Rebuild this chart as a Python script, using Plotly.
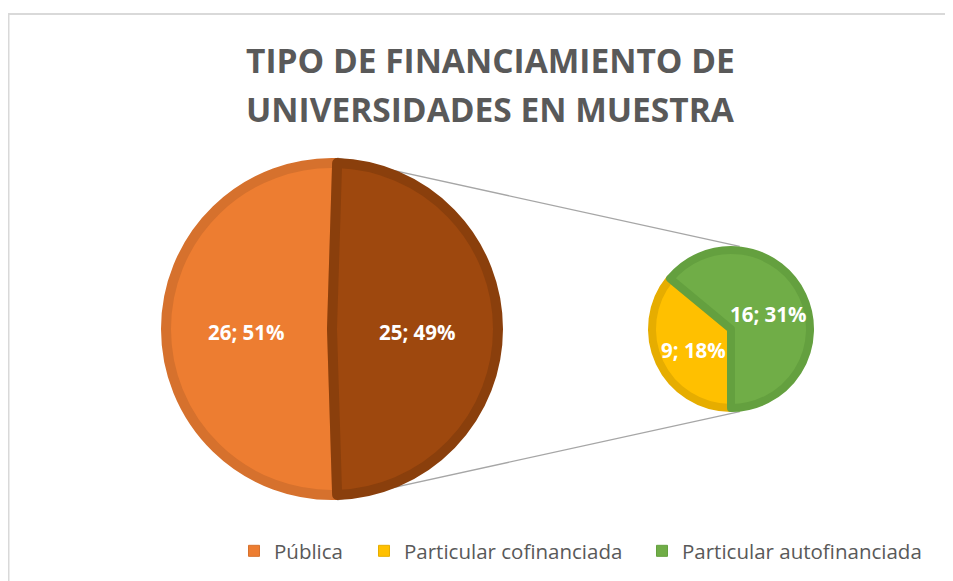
import math
import plotly.graph_objects as go

# ---------------- data ----------------
categories = ["Pública", "Particular cofinanciada", "Particular autofinanciada"]
counts = [26, 9, 16]
other_label = "Otros"
title_lines = ["TIPO DE FINANCIAMIENTO DE", "UNIVERSIDADES EN MUESTRA"]

fill_colors = ["#ED7D31", "#FFC000", "#70AD47"]
edge_colors = ["#D6712D", "#E6AD00", "#64A03F"]
other_fill = "#9E480E"
other_edge = "#8A3F0C"

# ---------------- derived ----------------
total = sum(counts)
otros = counts[1] + counts[2]
def pct(v):
    return f"{round(v / total * 100):d}%"

# page has an 8px body margin: figure is placed at (8, 8) in the window
OFF = 8
W, H = 953 - OFF, 581 - OFF
def fx(x):  # window px -> paper fraction
    return (x - OFF) / W
def fy(y):
    return 1 - (y - OFF) / H

# pie geometry (window pixels)
BIG_C, BIG_R = (332, 329), 166
SMALL_C, SMALL_R = (731, 329), 79

def domain(c, r):
    return dict(x=[fx(c[0] - r), fx(c[0] + r)], y=[fy(c[1] + r), fy(c[1] - r)])

otros_angle = 360.0 * otros / total
big_rotation = 90 + otros_angle / 2.0  # "other" slice centred at 3 o'clock
small_rotation = 180

fig = go.Figure()

big_vals = [counts[0], otros]
small_vals = [counts[1], counts[2]]

fig.add_trace(go.Pie(
    labels=[categories[0], other_label],
    values=big_vals, textinfo="none",
    sort=False, direction="clockwise", rotation=big_rotation,
    marker=dict(colors=[fill_colors[0], other_fill],
                line=dict(color=[edge_colors[0], other_edge], width=10)),
    domain=domain(BIG_C, BIG_R),
    showlegend=False, hoverinfo="label+value",
))

fig.add_trace(go.Pie(
    labels=[categories[1], categories[2]],
    values=small_vals, textinfo="none",
    sort=False, direction="clockwise", rotation=small_rotation,
    marker=dict(colors=fill_colors[1:], line=dict(color=edge_colors[1:], width=8)),
    domain=domain(SMALL_C, SMALL_R),
    showlegend=False, hoverinfo="label+value",
))

def pt(c, r, ang_deg):
    a = math.radians(ang_deg)
    return (c[0] + r * math.sin(a), c[1] - r * math.cos(a))

# data labels along each slice bisector (half the outer radius)
annotations = []
label_font = dict(family="Open Sans", size=20.5, color="white", weight="bold")
for c, r, rot, vals in [(BIG_C, BIG_R + 5, big_rotation, big_vals),
                        (SMALL_C, SMALL_R + 4, small_rotation, small_vals)]:
    s = sum(vals)
    start = rot
    for v in vals:
        span = 360.0 * v / s
        mid = start + span / 2
        px, py = pt(c, r * 0.5, mid)
        annotations.append(dict(text=f"{v}; {pct(v)}", x=fx(px), y=fy(py + 3),
                                xref="paper", yref="paper", xanchor="center",
                                yanchor="middle", showarrow=False, font=label_font))
        start += span

# legend entries (one legend each so they can be placed like the original)
legend_names = ["legend", "legend2", "legend3"]
legend_left_px = [234, 364, 642]
for i, name in enumerate(categories):
    fig.add_trace(go.Scatter(
        x=[None], y=[None], mode="markers", name=name,
        marker=dict(symbol="square", size=11, color=fill_colors[i],
                    line=dict(color=edge_colors[i], width=1)),
        legend=legend_names[i], showlegend=True, hoverinfo="skip",
    ))

legend_font = dict(family="Open Sans", size=20.5, color="#595959")
legend_layout = {}
for i, ln in enumerate(legend_names):
    legend_layout[ln] = dict(x=fx(legend_left_px[i]), xanchor="left",
                             y=fy(551), yanchor="middle",
                             orientation="h", font=legend_font,
                             bgcolor="rgba(0,0,0,0)")

# connector lines between the pies (from pie geometry)
p1 = pt(BIG_C, BIG_R + 5, big_rotation - otros_angle)
p2 = pt(BIG_C, BIG_R + 5, big_rotation)
q1 = pt(SMALL_C, SMALL_R + 4, 6)
q2 = pt(SMALL_C, SMALL_R + 4, 174)

shapes = []
for (pa, pb) in [(p1, q1), (p2, q2)]:
    shapes.append(dict(type="line", xref="paper", yref="paper", layer="below",
                       x0=fx(pa[0]), y0=fy(pa[1]), x1=fx(pb[0]), y1=fy(pb[1]),
                       line=dict(color="#A6A6A6", width=1.3)))
# chart frame
shapes.append(dict(type="rect", xref="paper", yref="paper", layer="below",
                   x0=fx(8.5), y0=fy(600), x1=fx(980), y1=fy(14),
                   line=dict(color="#D9D9D9", width=2)))

for txt, yc in zip(title_lines, [60, 109]):
    annotations.append(dict(text=txt, x=fx(490), y=fy(yc), xref="paper", yref="paper",
                            xanchor="center", yanchor="middle", showarrow=False,
                            font=dict(family="Open Sans", size=33.5, color="#595959",
                                      weight="bold")))

fig.update_layout(
    width=W, height=H,
    margin=dict(l=0, r=0, t=0, b=0),
    paper_bgcolor="white", plot_bgcolor="white",
    xaxis=dict(visible=False), yaxis=dict(visible=False),
    shapes=shapes, annotations=annotations,
    **legend_layout,
)

fig.write_html("out.html")
